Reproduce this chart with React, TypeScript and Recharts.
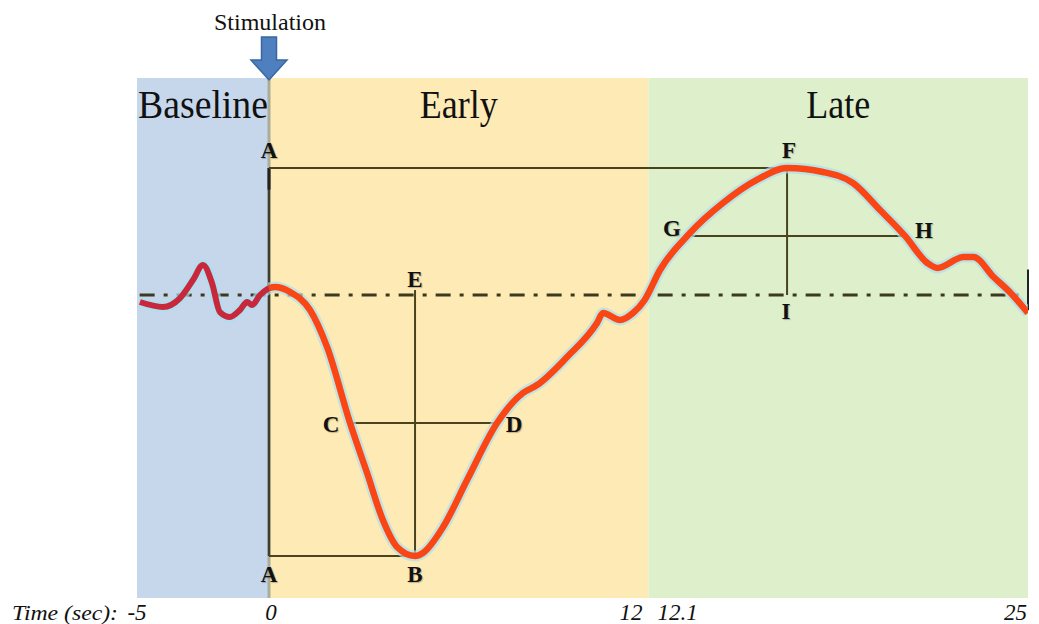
import React from 'react';
import { LineChart, Line, XAxis, YAxis, ReferenceArea, ReferenceLine, ReferenceDot } from 'recharts';

// ---------- data ----------
const phaseNames = ['Baseline', 'Early', 'Late'];
const phaseStart = [-5, 0, 12.1];
const phaseEnd = [0, 12, 25];

const xTicks = [-5, 0, 12, 12.1, 25];

const baselineTime = [-4.89, -4.02, -3.37, -2.88, -2.5, -2.16, -1.86, -1.48, -1.1, -0.83, -0.64, -0.34, 0];
const baselineSignal = [-0.055, -0.094, -0.024, 0.118, 0.236, 0.094, -0.134, -0.173, -0.118, -0.055, -0.079, 0, 0.055];

const responseTime = [0, 0.19, 0.67, 1.3, 1.84, 2.57, 3.11, 3.61, 4.06, 4.63, 4.88, 5.52, 6.28, 7.23, 8.05, 8.5, 9.45, 10.4, 10.59, 11.13, 11.54, 11.91, 12.49, 13.51, 14.63, 15.78, 16.81, 18.03, 19.05, 19.97, 20.82, 21.58, 21.92, 22.81, 23.15, 23.83, 24.41, 25];
const responseSignal = [0.055, 0.063, 0.024, -0.118, -0.409, -1.008, -1.402, -1.772, -1.984, -2.055, -2.031, -1.827, -1.457, -1.008, -0.772, -0.709, -0.488, -0.22, -0.142, -0.197, -0.142, -0.039, 0.197, 0.488, 0.724, 0.906, 1.0, 0.969, 0.882, 0.669, 0.465, 0.252, 0.213, 0.299, 0.299, 0.142, 0.016, -0.142];

// key annotation values (time in s, signal in arbitrary units)
const peakTime = 16.81;
const peakValue = 1.0;
const troughTime = 4.63;
const troughValue = -2.055;
const halfTroughValue = -1.008;
const halfTroughTimes = [2.57, 7.23]; // C, D
const halfPeakValue = 0.465;
const halfPeakTimes = [13.58, 20.82]; // G, H
const eTopValue = 0.04;

const pointNames = ['A', 'F', 'G', 'H', 'E', 'I', 'C', 'D', 'A', 'B'];
const pointTime = [0, 16.88, 12.9, 21.46, 4.63, 16.77, 1.97, 7.77, 0, 4.63];
const pointValue = [1.142, 1.142, 0.52, 0.512, 0.126, -0.126, -1.016, -1.016, -2.197, -2.197];

// piecewise time axis knots (time -> fraction of plot width)
const timeKnots = [-5, 0, 12, 12.1, 25];
const knotFractions = [0, 0.14815, 0.57295, 0.57407, 1];

const yDomain = [-2.386, 1.709];

// ---------- styles ----------
const phaseColors = ['#C6D7EC', '#FDEAB5', '#DEEFCC'];
const phaseLabelWidth = [130, 78, 64];
const serif = '"Liberation Serif", "Times New Roman", "DejaVu Serif", serif';
const lineColor = '#4A441E';

function piecewiseScale(): any {
  let dom: number[] = [-5, 25];
  let rng: number[] = [0, 1];
  const frac = (v: number) => {
    let i = 0;
    while (i < timeKnots.length - 2 && v > timeKnots[i + 1]) i++;
    return knotFractions[i] + ((v - timeKnots[i]) / (timeKnots[i + 1] - timeKnots[i])) * (knotFractions[i + 1] - knotFractions[i]);
  };
  const scale: any = (v: number) => rng[0] + frac(v) * (rng[1] - rng[0]);
  scale.domain = (d?: any) => {
    if (d === undefined) return dom;
    dom = d;
    return scale;
  };
  scale.range = (r?: any) => {
    if (r === undefined) return rng;
    rng = r;
    return scale;
  };
  scale.copy = () => {
    const s = piecewiseScale();
    s.domain(dom);
    s.range(rng);
    return s;
  };
  scale.ticks = () => timeKnots.slice();
  scale.tickFormat = () => (v: number) => String(v);
  scale.invert = (px: number) => {
    const f = (px - rng[0]) / (rng[1] - rng[0]);
    let i = 0;
    while (i < knotFractions.length - 2 && f > knotFractions[i + 1]) i++;
    return timeKnots[i] + ((f - knotFractions[i]) / (knotFractions[i + 1] - knotFractions[i])) * (timeKnots[i + 1] - timeKnots[i]);
  };
  scale.clamp = () => scale;
  scale.nice = () => scale;
  return scale;
}

const baselineData = baselineTime.map((t, i) => ({ t, v: baselineSignal[i] }));
const responseData = responseTime.map((t, i) => ({ t, v: responseSignal[i] }));

const XTick = (props: any) => {
  const { x, y, payload } = props;
  const v = payload.value;
  let anchor = 'middle';
  let dx = 0;
  if (v === 0) dx = 2;
  if (v === 12) { anchor = 'end'; dx = -5; }
  if (v === 12.1) { anchor = 'start'; dx = 9; }
  if (v === 25) { anchor = 'end'; dx = -1; }
  const ty = y + 14;
  return (
    <g>
      {v === -5 && (
        <text x={x - 125} y={ty} fontFamily={serif} fontStyle="italic" fontSize={22} fill="#111" textLength={106} lengthAdjust="spacingAndGlyphs">
          Time (sec):
        </text>
      )}
      <text x={x + dx} y={ty} textAnchor={anchor} fontFamily={serif} fontStyle="italic" fontSize={23} fill="#111">
        {String(v)}
      </text>
    </g>
  );
};

const StimMarker = (p: any) => {
  const { cx, cy } = p;
  return (
    <g>
      <text x={cx + 1} y={cy - 48} textAnchor="middle" fontFamily={serif} fontSize={24} fill="#111">
        Stimulation
      </text>
      <path
        d={`M${cx - 7.5},${cy - 41} H${cx + 7.5} V${cy - 18} H${cx + 18} L${cx},${cy + 2} L${cx - 18},${cy - 18} H${cx - 7.5} Z`}
        fill="#4E7FBE"
        stroke="#3A679F"
        strokeWidth={1.5}
      />
    </g>
  );
};

const letterShape = (name: string) => (p: any) => (
  <text x={p.cx} y={p.cy} textAnchor="middle" dominantBaseline="central" fontFamily={serif} fontWeight="bold" fontSize={23} fill="#111" style={{ textShadow: '1px 1px 1px rgba(0,0,0,0.25)' }}>
    {name}
  </text>
);

export default function App() {
  return (
    <div style={{ position: 'absolute', left: 0, top: 0, background: '#fff' }}>
      <LineChart width={1039} height={624} margin={{ top: 78, right: 11, left: 137, bottom: 0 }}>
        <XAxis
          type="number"
          dataKey="t"
          domain={[-5, 25]}
          ticks={xTicks}
          scale={piecewiseScale()}
          axisLine={false}
          tickLine={false}
          height={26}
          interval={0}
          tick={<XTick />}
          allowDataOverflow
        />
        <YAxis type="number" domain={yDomain} hide allowDataOverflow />
        {phaseNames.map((name, i) => (
          <ReferenceArea
            key={name}
            x1={phaseStart[i]}
            x2={phaseEnd[i] === 12 ? 12.1 : phaseEnd[i]}
            fill={phaseColors[i]}
            fillOpacity={1}
            stroke="none"
            ifOverflow="visible"
            label={(lp: any) => {
              const vb = lp.viewBox;
              return (
                <text
                  x={vb.x + vb.width / 2}
                  y={vb.y + 40}
                  textAnchor="middle"
                  fontFamily={serif}
                  fontSize={41}
                  fill="#111"
                  textLength={phaseLabelWidth[i]}
                  lengthAdjust="spacingAndGlyphs"
                >
                  {name}
                </text>
              );
            }}
          />
        ))}
        <ReferenceLine x={0} stroke="#A9AE9A" strokeWidth={3} ifOverflow="visible" />
        {/* dash-dot baseline */}
        <ReferenceLine
          segment={[{ x: -4.9, y: 0 }, { x: 25, y: 0 }]}
          stroke="#3B3A1E"
          strokeWidth={3}
          strokeDasharray="15 9 4 9"
          ifOverflow="visible"
        />
        {/* annotation lines */}
        <ReferenceLine segment={[{ x: 0, y: peakValue }, { x: 0, y: troughValue }]} stroke="#3F3F30" strokeWidth={2.5} ifOverflow="visible" />
        <ReferenceLine segment={[{ x: 0, y: peakValue }, { x: 0, y: peakValue - 0.17 }]} stroke="#222" strokeWidth={3} ifOverflow="visible" />
        <ReferenceLine segment={[{ x: 0, y: peakValue }, { x: peakTime, y: peakValue }]} stroke={lineColor} strokeWidth={2} ifOverflow="visible" />
        <ReferenceLine segment={[{ x: peakTime, y: peakValue }, { x: peakTime, y: 0 }]} stroke={lineColor} strokeWidth={2} ifOverflow="visible" />
        <ReferenceLine segment={[{ x: halfPeakTimes[0], y: halfPeakValue }, { x: halfPeakTimes[1], y: halfPeakValue }]} stroke={lineColor} strokeWidth={2} ifOverflow="visible" />
        <ReferenceLine segment={[{ x: troughTime, y: eTopValue }, { x: troughTime, y: troughValue }]} stroke={lineColor} strokeWidth={2} ifOverflow="visible" />
        <ReferenceLine segment={[{ x: halfTroughTimes[0], y: halfTroughValue }, { x: halfTroughTimes[1], y: halfTroughValue }]} stroke={lineColor} strokeWidth={2} ifOverflow="visible" />
        <ReferenceLine segment={[{ x: 0, y: troughValue }, { x: troughTime, y: troughValue }]} stroke={lineColor} strokeWidth={2} ifOverflow="visible" />
        <ReferenceLine segment={[{ x: 25, y: 0.2 }, { x: 25, y: -0.12 }]} stroke="#222" strokeWidth={2} ifOverflow="visible" />
        {/* glow */}
        <Line data={baselineData} dataKey="v" type="monotone" stroke="#A9DFEF" strokeWidth={11} strokeOpacity={0.7} dot={false} isAnimationActive={false} />
        <Line data={responseData} dataKey="v" type="monotone" stroke="#A9DFEF" strokeWidth={11} strokeOpacity={0.7} dot={false} isAnimationActive={false} />
        {/* signal */}
        <Line data={baselineData} dataKey="v" type="monotone" stroke="#C8283C" strokeWidth={6} dot={false} isAnimationActive={false} />
        <Line data={responseData} dataKey="v" type="monotone" stroke="#FA4614" strokeWidth={6.5} dot={false} isAnimationActive={false} />
        {pointNames.map((n, i) => (
          <ReferenceDot key={n + i} x={pointTime[i]} y={pointValue[i]} r={0} ifOverflow="visible" shape={letterShape(n)} />
        ))}
        <ReferenceDot x={0} y={yDomain[1]} r={0} ifOverflow="visible" shape={StimMarker} />
      </LineChart>
    </div>
  );
}
